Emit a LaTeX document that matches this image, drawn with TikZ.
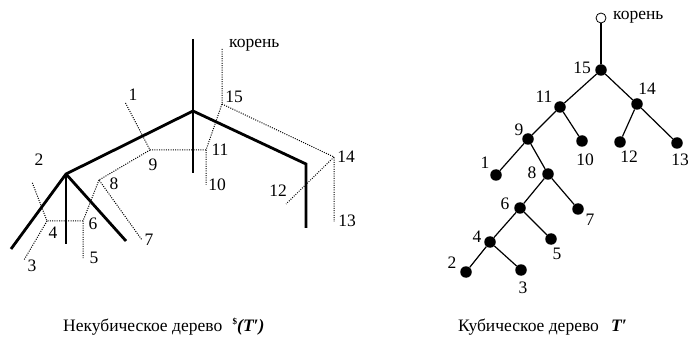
\documentclass[tikz,border=0pt]{standalone}
\usepackage{fontspec}
\setmainfont{Liberation Serif}
\begin{document}
\begin{tikzpicture}[x=1pt,y=-1pt,
  thickline/.style={line width=2.8pt,line cap=butt,line join=miter},
  dotline/.style={line width=1pt,dash pattern=on 1pt off 1.3pt},
  lbl/.style={font=\fontsize{17.5}{20}\selectfont,inner sep=0pt},
  leaf/.style={circle,fill=black,minimum size=11.5pt,inner sep=0pt},
  rootc/.style={circle,draw=black,fill=white,line width=0.8pt,minimum size=10pt,inner sep=0pt},
  edge/.style={line width=1.2pt}]
\useasboundingbox (0,0) rectangle (688,339);
% ---------- left: non-cubic tree ----------
\coordinate (Rt) at (193,39);
\coordinate (A) at (193,111);
\coordinate (Ab) at (193,173);
\coordinate (B) at (66,174);
\coordinate (Bl) at (11,249);
\coordinate (Bb) at (66,244);
\coordinate (Br) at (126,241);
\coordinate (C) at (306,164);
\coordinate (Cb) at (306,228);
\draw[thickline] (Rt) -- (Ab);
\draw[thickline] (Bl) -- (B) -- (A) -- (C) -- (Cb);
\draw[thickline] (B) -- (Bb);
\draw[thickline] (B) -- (Br);
% dual (dotted)
\coordinate (k) at (222,49);
\coordinate (n15) at (222,104);
\coordinate (n11) at (206,150);
\coordinate (n10) at (206,185);
\coordinate (n9) at (150,150);
\coordinate (n1) at (125,102);
\coordinate (n14) at (334,157);
\coordinate (n13) at (334,222);
\coordinate (n12) at (286,204);
\coordinate (n8) at (99,180);
\coordinate (n7) at (142,240);
\coordinate (n6) at (83,221);
\coordinate (n5) at (83,258);
\coordinate (n4) at (47,221);
\coordinate (n2) at (32,182);
\coordinate (n3) at (24,260);
\draw[dotline] (k) -- (n15) -- (n11) -- (n10);
\draw[dotline] (n15) -- (n14) -- (n13);
\draw[dotline] (n14) -- (n12);
\draw[dotline] (n11) -- (n9) -- (n1);
\draw[dotline] (n9) -- (n8) -- (n7);
\draw[dotline] (n8) -- (n6) -- (n5);
\draw[dotline] (n6) -- (n4) -- (n2);
\draw[dotline] (n4) -- (n3);
% labels
\node[lbl,anchor=west] (lk) at (229,45) {корень};
\node[lbl] (l1) at (133,95) {1};
\node[lbl] (l2) at (39,160) {2};
\node[lbl] (l3) at (32,266) {3};
\node[lbl] (l4) at (53,233) {4};
\node[lbl] (l5) at (94,258) {5};
\node[lbl] (l6) at (93,224) {6};
\node[lbl] (l7) at (149,240) {7};
\node[lbl] (l8) at (114,184) {8};
\node[lbl] (l9) at (153,165) {9};
\node[lbl] (l10) at (217,185) {10};
\node[lbl] (l11) at (220,150) {11};
\node[lbl] (l12) at (278,191) {12};
\node[lbl] (l13) at (347,221) {13};
\node[lbl] (l14) at (346,157) {14};
\node[lbl] (l15) at (234,97) {15};
% ---------- right: cubic tree ----------
\node[rootc] (r) at (601,18) {};
\node[leaf] (c15) at (601,70) {};
\node[leaf] (c11) at (560,107) {};
\node[leaf] (c14) at (637,104) {};
\node[leaf] (c9) at (528,139) {};
\node[leaf] (c10) at (582,141) {};
\node[leaf] (c12) at (620,142) {};
\node[leaf] (c13) at (677,143) {};
\node[leaf] (c1) at (496,175) {};
\node[leaf] (c8) at (548,174) {};
\node[leaf] (c6) at (520,208) {};
\node[leaf] (c7) at (578,209) {};
\node[leaf] (c4) at (490,242) {};
\node[leaf] (c5) at (551,239) {};
\node[leaf] (c2) at (466,272) {};
\node[leaf] (c3) at (521,270) {};
\draw[edge] (r) -- (c15);
\draw[edge] (c15) -- (c11);
\draw[edge] (c15) -- (c14);
\draw[edge] (c11) -- (c9);
\draw[edge] (c11) -- (c10);
\draw[edge] (c14) -- (c12);
\draw[edge] (c14) -- (c13);
\draw[edge] (c9) -- (c1);
\draw[edge] (c9) -- (c8);
\draw[edge] (c8) -- (c6);
\draw[edge] (c8) -- (c7);
\draw[edge] (c6) -- (c4);
\draw[edge] (c6) -- (c5);
\draw[edge] (c4) -- (c2);
\draw[edge] (c4) -- (c3);
\node[lbl,anchor=west] (rk) at (613,17) {корень};
\node[lbl] (m15) at (582,68) {15};
\node[lbl] (m11) at (544,97) {11};
\node[lbl] (m14) at (647,89) {14};
\node[lbl] (m9) at (519,130) {9};
\node[lbl] (m10) at (585,160) {10};
\node[lbl] (m12) at (629,157) {12};
\node[lbl] (m13) at (680,160) {13};
\node[lbl] (m1) at (485,163) {1};
\node[lbl] (m8) at (532,173) {8};
\node[lbl] (m6) at (505,204) {6};
\node[lbl] (m7) at (590,220) {7};
\node[lbl] (m4) at (477,237) {4};
\node[lbl] (m5) at (557,254) {5};
\node[lbl] (m2) at (452,263) {2};
\node[lbl] (m3) at (523,288) {3};
% captions
\node[lbl,anchor=west] (capL) at (63,327) {Некубическое дерево\hspace{0.6em}\raisebox{0.4em}{\fontsize{9}{9}\selectfont\bfseries\$}{\bfseries\itshape (T′)}};
\node[lbl,anchor=west] (capR) at (458,327) {Кубическое дерево\hspace{0.7em}{\bfseries\itshape T′}};
\end{tikzpicture}
\end{document}
